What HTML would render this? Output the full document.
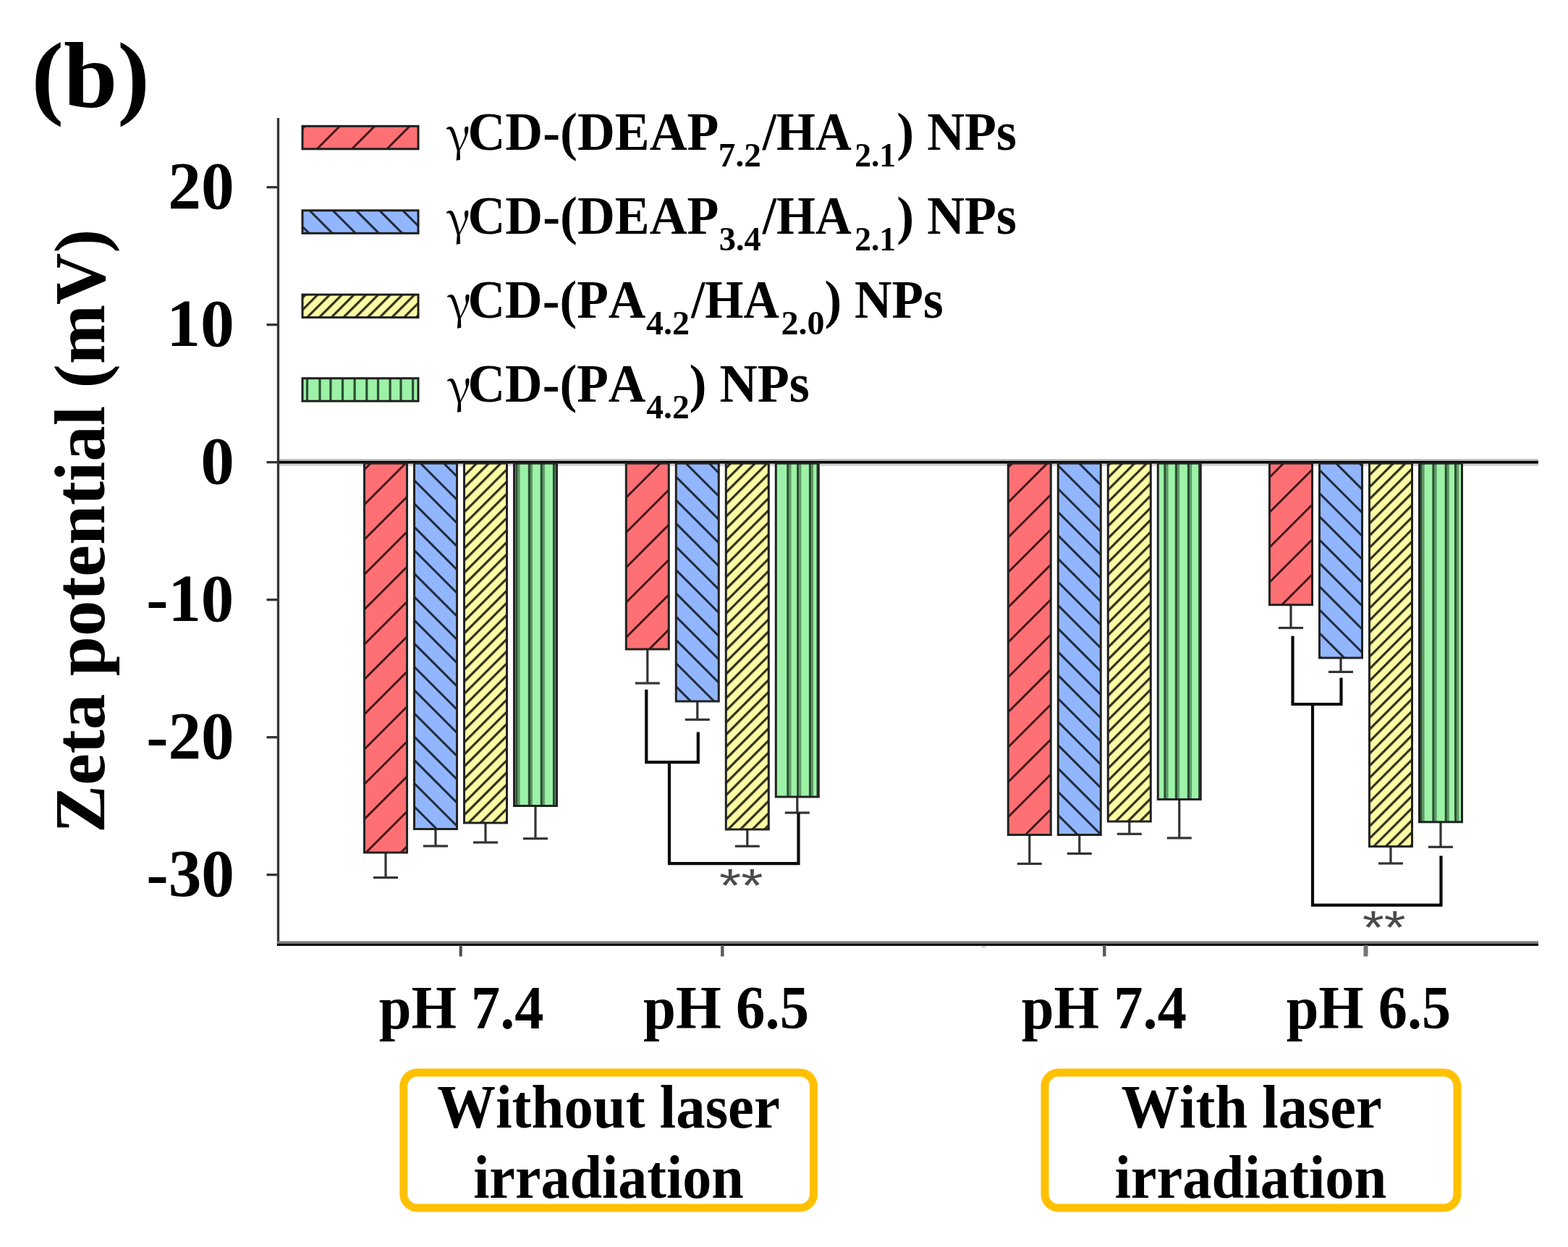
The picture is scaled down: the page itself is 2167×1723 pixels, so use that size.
<!DOCTYPE html><html><head><meta charset="utf-8"><title>Zeta potential chart</title><style>html,body{margin:0;padding:0;background:#fff;overflow:hidden}svg{display:block}</style></head><body><svg width="2167" height="1723" viewBox="0 0 2167 1723"><defs><pattern id="r0" patternUnits="userSpaceOnUse" width="34.1533" height="34.1533" patternTransform="translate(1198.72,0) rotate(45)"><rect x="-1" y="-1" width="36.153" height="36.153" fill="#ff7074"/><rect x="0" y="-1" width="2.8" height="36.153" fill="#3a1416"/></pattern><pattern id="b0" patternUnits="userSpaceOnUse" width="22.7688" height="22.7688" patternTransform="translate(-125.52,0) rotate(-45)"><rect x="-1" y="-1" width="24.769" height="24.769" fill="#92b6fe"/><rect x="0" y="-1" width="3.0" height="24.769" fill="#1f2a3d"/></pattern><pattern id="y0" patternUnits="userSpaceOnUse" width="11.8370" height="11.8370" patternTransform="translate(1313.44,0) rotate(45)"><rect x="-1" y="-1" width="13.837" height="13.837" fill="#fdfda5"/><rect x="0" y="-1" width="3.2" height="13.837" fill="#30301c"/></pattern><pattern id="r1" patternUnits="userSpaceOnUse" width="34.1533" height="34.1533" patternTransform="translate(1550.82,0) rotate(45)"><rect x="-1" y="-1" width="36.153" height="36.153" fill="#ff7074"/><rect x="0" y="-1" width="2.8" height="36.153" fill="#3a1416"/></pattern><pattern id="b1" patternUnits="userSpaceOnUse" width="22.7688" height="22.7688" patternTransform="translate(241.18,0) rotate(-45)"><rect x="-1" y="-1" width="24.769" height="24.769" fill="#92b6fe"/><rect x="0" y="-1" width="3.0" height="24.769" fill="#1f2a3d"/></pattern><pattern id="y1" patternUnits="userSpaceOnUse" width="11.8370" height="11.8370" patternTransform="translate(1698.14,0) rotate(45)"><rect x="-1" y="-1" width="13.837" height="13.837" fill="#fdfda5"/><rect x="0" y="-1" width="3.2" height="13.837" fill="#30301c"/></pattern><pattern id="r2" patternUnits="userSpaceOnUse" width="34.1533" height="34.1533" patternTransform="translate(2085.52,0) rotate(45)"><rect x="-1" y="-1" width="36.153" height="36.153" fill="#ff7074"/><rect x="0" y="-1" width="2.8" height="36.153" fill="#3a1416"/></pattern><pattern id="b2" patternUnits="userSpaceOnUse" width="22.7688" height="22.7688" patternTransform="translate(784.78,0) rotate(-45)"><rect x="-1" y="-1" width="24.769" height="24.769" fill="#92b6fe"/><rect x="0" y="-1" width="3.0" height="24.769" fill="#1f2a3d"/></pattern><pattern id="y2" patternUnits="userSpaceOnUse" width="11.8370" height="11.8370" patternTransform="translate(2205.94,0) rotate(45)"><rect x="-1" y="-1" width="13.837" height="13.837" fill="#fdfda5"/><rect x="0" y="-1" width="3.2" height="13.837" fill="#30301c"/></pattern><pattern id="r3" patternUnits="userSpaceOnUse" width="34.1533" height="34.1533" patternTransform="translate(2460.42,0) rotate(45)"><rect x="-1" y="-1" width="36.153" height="36.153" fill="#ff7074"/><rect x="0" y="-1" width="2.8" height="36.153" fill="#3a1416"/></pattern><pattern id="b3" patternUnits="userSpaceOnUse" width="22.7688" height="22.7688" patternTransform="translate(1139.88,0) rotate(-45)"><rect x="-1" y="-1" width="24.769" height="24.769" fill="#92b6fe"/><rect x="0" y="-1" width="3.0" height="24.769" fill="#1f2a3d"/></pattern><pattern id="y3" patternUnits="userSpaceOnUse" width="11.8370" height="11.8370" patternTransform="translate(2580.24,0) rotate(45)"><rect x="-1" y="-1" width="13.837" height="13.837" fill="#fdfda5"/><rect x="0" y="-1" width="3.2" height="13.837" fill="#30301c"/></pattern><pattern id="lr" patternUnits="userSpaceOnUse" width="34.1533" height="34.1533" patternTransform="translate(641.92,0) rotate(45)"><rect x="-1" y="-1" width="36.153" height="36.153" fill="#ff7074"/><rect x="0" y="-1" width="2.8" height="36.153" fill="#3a1416"/></pattern><pattern id="lb" patternUnits="userSpaceOnUse" width="22.7688" height="22.7688" patternTransform="translate(134.88,0) rotate(-45)"><rect x="-1" y="-1" width="24.769" height="24.769" fill="#92b6fe"/><rect x="0" y="-1" width="3.0" height="24.769" fill="#1f2a3d"/></pattern><pattern id="ly" patternUnits="userSpaceOnUse" width="11.8370" height="11.8370" patternTransform="translate(860.74,0) rotate(45)"><rect x="-1" y="-1" width="13.837" height="13.837" fill="#fdfda5"/><rect x="0" y="-1" width="3.2" height="13.837" fill="#30301c"/></pattern></defs><rect width="2167" height="1723" fill="#fff"/><rect x="382.8" y="163" width="3.3" height="1144" fill="#333"/><rect x="368.5" y="257.05" width="15" height="3.3" fill="#333"/><rect x="368.5" y="447.05" width="15" height="3.3" fill="#333"/><rect x="368.5" y="637.05" width="15" height="3.3" fill="#333"/><rect x="368.5" y="827.05" width="15" height="3.3" fill="#333"/><rect x="368.5" y="1017.05" width="15" height="3.3" fill="#333"/><rect x="368.5" y="1207.05" width="15" height="3.3" fill="#333"/><rect x="386" y="634.3" width="1740" height="2.6" fill="#b4b4b4"/><rect x="386" y="640.6" width="1740" height="3.2" fill="#d0d0d0"/><rect x="386" y="636.9" width="1740" height="3.7" fill="#000"/><rect x="383" y="1300.4" width="1743" height="3.5" fill="#7a7a7a"/><rect x="383" y="1303.9" width="1743" height="3" fill="#000"/><rect x="634.70" y="1306" width="4" height="15.5" fill="#4a4a4a"/><rect x="996.10" y="1306" width="4.4" height="15.5" fill="#5a5a5a"/><rect x="1524.10" y="1306" width="4.4" height="15.5" fill="#5a5a5a"/><rect x="1884.50" y="1306" width="6" height="15.5" fill="#747474"/><rect x="1356" y="1307" width="7" height="3" fill="#dcdcdc"/><rect x="531.40" y="1178.00" width="3.2" height="34.60" fill="#333"/><rect x="516.00" y="1211.00" width="34" height="3.2" fill="#333"/><rect x="503.50" y="640.20" width="59" height="537.80" fill="url(#r0)" stroke="#222" stroke-width="3"/><rect x="600.40" y="1145.50" width="3.2" height="23.50" fill="#333"/><rect x="585.00" y="1167.40" width="34" height="3.2" fill="#333"/><rect x="572.50" y="640.20" width="59" height="505.30" fill="url(#b0)" stroke="#222" stroke-width="3"/><rect x="669.40" y="1137.00" width="3.2" height="27.00" fill="#333"/><rect x="654.00" y="1162.40" width="34" height="3.2" fill="#333"/><rect x="641.50" y="640.20" width="59" height="496.80" fill="url(#y0)" stroke="#222" stroke-width="3"/><rect x="738.40" y="1113.50" width="3.2" height="45.20" fill="#333"/><rect x="723.00" y="1157.10" width="34" height="3.2" fill="#333"/><rect x="710.50" y="640.20" width="59" height="473.30" fill="#9cf2a6"/><rect x="712.40" y="640.20" width="3.20" height="473.30" fill="#2b4f33"/><rect x="715.60" y="640.20" width="3.00" height="473.30" fill="#5e9866"/><rect x="729.80" y="640.20" width="3.20" height="473.30" fill="#2b4f33"/><rect x="733.00" y="640.20" width="3.00" height="473.30" fill="#5e9866"/><rect x="746.70" y="640.20" width="3.20" height="473.30" fill="#2b4f33"/><rect x="749.90" y="640.20" width="3.00" height="473.30" fill="#5e9866"/><rect x="763.90" y="640.20" width="3.20" height="473.30" fill="#2b4f33"/><rect x="767.10" y="640.20" width="2.40" height="473.30" fill="#5e9866"/><rect x="710.50" y="640.20" width="59" height="473.30" fill="none" stroke="#222" stroke-width="3"/><rect x="893.20" y="897.00" width="3.2" height="47.00" fill="#333"/><rect x="877.80" y="942.40" width="34" height="3.2" fill="#333"/><rect x="865.30" y="640.20" width="59" height="256.80" fill="url(#r1)" stroke="#222" stroke-width="3"/><rect x="962.20" y="969.00" width="3.2" height="25.30" fill="#333"/><rect x="946.80" y="992.70" width="34" height="3.2" fill="#333"/><rect x="934.30" y="640.20" width="59" height="328.80" fill="url(#b1)" stroke="#222" stroke-width="3"/><rect x="1031.20" y="1146.00" width="3.2" height="23.20" fill="#333"/><rect x="1015.80" y="1167.60" width="34" height="3.2" fill="#333"/><rect x="1003.30" y="640.20" width="59" height="505.80" fill="url(#y1)" stroke="#222" stroke-width="3"/><rect x="1100.20" y="1101.00" width="3.2" height="22.00" fill="#333"/><rect x="1084.80" y="1121.40" width="34" height="3.2" fill="#333"/><rect x="1072.30" y="640.20" width="59" height="460.80" fill="#9cf2a6"/><rect x="1087.30" y="640.20" width="3.20" height="460.80" fill="#2b4f33"/><rect x="1090.50" y="640.20" width="3.00" height="460.80" fill="#5e9866"/><rect x="1101.10" y="640.20" width="3.20" height="460.80" fill="#2b4f33"/><rect x="1104.30" y="640.20" width="3.00" height="460.80" fill="#5e9866"/><rect x="1117.90" y="640.20" width="3.20" height="460.80" fill="#2b4f33"/><rect x="1121.10" y="640.20" width="3.00" height="460.80" fill="#5e9866"/><rect x="1128.40" y="640.20" width="2.90" height="460.80" fill="#2b4f33"/><rect x="1072.30" y="640.20" width="59" height="460.80" fill="none" stroke="#222" stroke-width="3"/><rect x="1421.20" y="1153.50" width="3.2" height="40.00" fill="#333"/><rect x="1405.80" y="1191.90" width="34" height="3.2" fill="#333"/><rect x="1393.30" y="640.20" width="59" height="513.30" fill="url(#r2)" stroke="#222" stroke-width="3"/><rect x="1490.20" y="1153.50" width="3.2" height="25.90" fill="#333"/><rect x="1474.80" y="1177.80" width="34" height="3.2" fill="#333"/><rect x="1462.30" y="640.20" width="59" height="513.30" fill="url(#b2)" stroke="#222" stroke-width="3"/><rect x="1559.20" y="1135.00" width="3.2" height="17.30" fill="#333"/><rect x="1543.80" y="1150.70" width="34" height="3.2" fill="#333"/><rect x="1531.30" y="640.20" width="59" height="494.80" fill="url(#y2)" stroke="#222" stroke-width="3"/><rect x="1628.20" y="1104.50" width="3.2" height="53.40" fill="#333"/><rect x="1612.80" y="1156.30" width="34" height="3.2" fill="#333"/><rect x="1600.30" y="640.20" width="59" height="464.30" fill="#9cf2a6"/><rect x="1608.40" y="640.20" width="3.20" height="464.30" fill="#2b4f33"/><rect x="1611.60" y="640.20" width="3.00" height="464.30" fill="#5e9866"/><rect x="1623.90" y="640.20" width="3.20" height="464.30" fill="#2b4f33"/><rect x="1627.10" y="640.20" width="3.00" height="464.30" fill="#5e9866"/><rect x="1640.90" y="640.20" width="3.20" height="464.30" fill="#2b4f33"/><rect x="1644.10" y="640.20" width="3.00" height="464.30" fill="#5e9866"/><rect x="1656.10" y="640.20" width="3.20" height="464.30" fill="#2b4f33"/><rect x="1600.30" y="640.20" width="59" height="464.30" fill="none" stroke="#222" stroke-width="3"/><rect x="1782.40" y="835.70" width="3.2" height="31.90" fill="#333"/><rect x="1767.00" y="866.00" width="34" height="3.2" fill="#333"/><rect x="1754.50" y="640.20" width="59" height="195.50" fill="url(#r3)" stroke="#222" stroke-width="3"/><rect x="1851.40" y="909.00" width="3.2" height="19.40" fill="#333"/><rect x="1836.00" y="926.80" width="34" height="3.2" fill="#333"/><rect x="1823.50" y="640.20" width="59" height="268.80" fill="url(#b3)" stroke="#222" stroke-width="3"/><rect x="1920.40" y="1169.60" width="3.2" height="23.40" fill="#333"/><rect x="1905.00" y="1191.40" width="34" height="3.2" fill="#333"/><rect x="1892.50" y="640.20" width="59" height="529.40" fill="url(#y3)" stroke="#222" stroke-width="3"/><rect x="1989.40" y="1135.80" width="3.2" height="34.50" fill="#333"/><rect x="1974.00" y="1168.70" width="34" height="3.2" fill="#333"/><rect x="1961.50" y="640.20" width="59" height="495.60" fill="#9cf2a6"/><rect x="1962.40" y="640.20" width="3.20" height="495.60" fill="#2b4f33"/><rect x="1965.60" y="640.20" width="3.00" height="495.60" fill="#5e9866"/><rect x="1979.40" y="640.20" width="3.20" height="495.60" fill="#2b4f33"/><rect x="1982.60" y="640.20" width="3.00" height="495.60" fill="#5e9866"/><rect x="1996.70" y="640.20" width="3.20" height="495.60" fill="#2b4f33"/><rect x="1999.90" y="640.20" width="3.00" height="495.60" fill="#5e9866"/><rect x="2010.00" y="640.20" width="3.20" height="495.60" fill="#2b4f33"/><rect x="2013.20" y="640.20" width="3.00" height="495.60" fill="#5e9866"/><rect x="1961.50" y="640.20" width="59" height="495.60" fill="none" stroke="#222" stroke-width="3"/><path d="M893.3,952.7 L893.3,1053.2 L964.8,1053.2 L964.8,1011.5" fill="none" stroke="#0a0a0a" stroke-width="4.2" stroke-linejoin="miter" stroke-linecap="butt"/><path d="M925.0,1053.2 L925.0,1193.2 L1103.5,1193.2 L1103.5,1123.5" fill="none" stroke="#0a0a0a" stroke-width="4.2" stroke-linejoin="miter" stroke-linecap="butt"/><path d="M1786.5,878.7 L1786.5,973.0 L1853.5,973.0 L1853.5,936.6" fill="none" stroke="#0a0a0a" stroke-width="4.2" stroke-linejoin="miter" stroke-linecap="butt"/><path d="M1814.0,973.0 L1814.0,1250.6 L1991.5,1250.6 L1991.5,1182.6" fill="none" stroke="#0a0a0a" stroke-width="4.2" stroke-linejoin="miter" stroke-linecap="butt"/><rect x="418" y="174.30" width="160" height="31.5" fill="url(#lr)" stroke="#1e1e1e" stroke-width="3"/><rect x="418" y="290.80" width="160" height="31.5" fill="url(#lb)" stroke="#1e1e1e" stroke-width="3"/><rect x="418" y="407.10" width="160" height="31.5" fill="url(#ly)" stroke="#1e1e1e" stroke-width="3"/><rect x="418" y="522.70" width="160" height="31.5" fill="#9cf2a6"/><rect x="422.90" y="522.70" width="3.2" height="31.5" fill="#2b4f33"/><rect x="440.40" y="522.70" width="3.2" height="31.5" fill="#2b4f33"/><rect x="455.30" y="522.70" width="3.2" height="31.5" fill="#2b4f33"/><rect x="471.90" y="522.70" width="3.2" height="31.5" fill="#2b4f33"/><rect x="488.50" y="522.70" width="3.2" height="31.5" fill="#2b4f33"/><rect x="505.20" y="522.70" width="3.2" height="31.5" fill="#2b4f33"/><rect x="520.90" y="522.70" width="3.2" height="31.5" fill="#2b4f33"/><rect x="537.50" y="522.70" width="3.2" height="31.5" fill="#2b4f33"/><rect x="552.40" y="522.70" width="3.2" height="31.5" fill="#2b4f33"/><rect x="569.00" y="522.70" width="3.2" height="31.5" fill="#2b4f33"/><rect x="418" y="522.70" width="160" height="31.5" fill="none" stroke="#1e1e1e" stroke-width="3"/><rect x="557.8" y="1481.9" width="566.7" height="187.1" rx="19" ry="19" fill="none" stroke="#ffc000" stroke-width="11"/><rect x="1444" y="1481.9" width="570" height="187.1" rx="19" ry="19" fill="none" stroke="#ffc000" stroke-width="11"/><g font-family="Liberation Serif, serif" style="font-kerning:none"><text x="43.53" y="148.00" font-size="130" font-weight="bold" textLength="163.35" lengthAdjust="spacingAndGlyphs" fill="#000">(b)</text><text x="232.26" y="288.30" font-size="93.5" font-weight="bold" textLength="91.42" lengthAdjust="spacingAndGlyphs" fill="#000">20</text><text x="230.20" y="478.30" font-size="93.5" font-weight="bold" textLength="93.67" lengthAdjust="spacingAndGlyphs" fill="#000">10</text><text x="277.15" y="668.30" font-size="93.5" font-weight="bold" textLength="46.60" lengthAdjust="spacingAndGlyphs" fill="#000">0</text><text x="202.28" y="858.30" font-size="93.5" font-weight="bold" textLength="120.98" lengthAdjust="spacingAndGlyphs" fill="#000">-10</text><text x="202.27" y="1048.30" font-size="93.5" font-weight="bold" textLength="121.19" lengthAdjust="spacingAndGlyphs" fill="#000">-20</text><text x="202.26" y="1238.30" font-size="93.5" font-weight="bold" textLength="121.72" lengthAdjust="spacingAndGlyphs" fill="#000">-30</text><text x="523.78" y="1421.20" font-size="85" font-weight="bold" textLength="227.61" lengthAdjust="spacingAndGlyphs" fill="#000">pH 7.4</text><text x="889.07" y="1421.20" font-size="85" font-weight="bold" textLength="228.98" lengthAdjust="spacingAndGlyphs" fill="#000">pH 6.5</text><text x="1411.78" y="1421.20" font-size="85" font-weight="bold" textLength="228.12" lengthAdjust="spacingAndGlyphs" fill="#000">pH 7.4</text><text x="1777.68" y="1421.20" font-size="85" font-weight="bold" textLength="227.46" lengthAdjust="spacingAndGlyphs" fill="#000">pH 6.5</text><text x="604.36" y="1558.00" font-size="84" font-weight="bold" textLength="473.48" lengthAdjust="spacingAndGlyphs" fill="#000">Without laser</text><text x="654.14" y="1654.70" font-size="84" font-weight="bold" textLength="373.67" lengthAdjust="spacingAndGlyphs" fill="#000">irradiation</text><text x="1549.56" y="1558.00" font-size="84" font-weight="bold" textLength="360.27" lengthAdjust="spacingAndGlyphs" fill="#000">With laser</text><text x="1540.43" y="1654.70" font-size="84" font-weight="bold" textLength="375.99" lengthAdjust="spacingAndGlyphs" fill="#000">irradiation</text><text x="616.70" y="209.10" font-size="64" font-weight="normal" textLength="33.92" lengthAdjust="spacingAndGlyphs" fill="#000" font-family="Noto Serif CJK SC, Liberation Serif, serif">γ</text><text x="646.49" y="207.30" font-size="75" font-weight="bold" textLength="346.94" lengthAdjust="spacingAndGlyphs" fill="#000">CD-(DEAP</text><text x="992.80" y="230.10" font-size="47" font-weight="bold" textLength="59.03" lengthAdjust="spacingAndGlyphs" fill="#000">7.2</text><text x="1053.68" y="207.30" font-size="75" font-weight="bold" textLength="123.13" lengthAdjust="spacingAndGlyphs" fill="#000">/HA</text><text x="1181.19" y="230.10" font-size="47" font-weight="bold" textLength="56.86" lengthAdjust="spacingAndGlyphs" fill="#000">2.1</text><text x="1239.28" y="207.30" font-size="75" font-weight="bold" textLength="165.77" lengthAdjust="spacingAndGlyphs" fill="#000">) NPs</text><text x="616.70" y="324.90" font-size="64" font-weight="normal" textLength="33.92" lengthAdjust="spacingAndGlyphs" fill="#000" font-family="Noto Serif CJK SC, Liberation Serif, serif">γ</text><text x="646.49" y="323.10" font-size="75" font-weight="bold" textLength="346.94" lengthAdjust="spacingAndGlyphs" fill="#000">CD-(DEAP</text><text x="993.75" y="345.90" font-size="47" font-weight="bold" textLength="58.11" lengthAdjust="spacingAndGlyphs" fill="#000">3.4</text><text x="1053.68" y="323.10" font-size="75" font-weight="bold" textLength="123.13" lengthAdjust="spacingAndGlyphs" fill="#000">/HA</text><text x="1181.19" y="345.90" font-size="47" font-weight="bold" textLength="56.86" lengthAdjust="spacingAndGlyphs" fill="#000">2.1</text><text x="1239.28" y="323.10" font-size="75" font-weight="bold" textLength="165.77" lengthAdjust="spacingAndGlyphs" fill="#000">) NPs</text><text x="618.00" y="441.00" font-size="64" font-weight="normal" textLength="33.92" lengthAdjust="spacingAndGlyphs" fill="#000" font-family="Noto Serif CJK SC, Liberation Serif, serif">γ</text><text x="646.51" y="439.20" font-size="75" font-weight="bold" textLength="245.91" lengthAdjust="spacingAndGlyphs" fill="#000">CD-(PA</text><text x="893.04" y="462.00" font-size="47" font-weight="bold" textLength="60.02" lengthAdjust="spacingAndGlyphs" fill="#000">4.2</text><text x="955.27" y="439.20" font-size="75" font-weight="bold" textLength="121.63" lengthAdjust="spacingAndGlyphs" fill="#000">/HA</text><text x="1079.48" y="462.00" font-size="47" font-weight="bold" textLength="60.15" lengthAdjust="spacingAndGlyphs" fill="#000">2.0</text><text x="1139.61" y="439.20" font-size="75" font-weight="bold" textLength="164.03" lengthAdjust="spacingAndGlyphs" fill="#000">) NPs</text><text x="618.00" y="556.80" font-size="64" font-weight="normal" textLength="33.92" lengthAdjust="spacingAndGlyphs" fill="#000" font-family="Noto Serif CJK SC, Liberation Serif, serif">γ</text><text x="646.51" y="555.00" font-size="75" font-weight="bold" textLength="245.91" lengthAdjust="spacingAndGlyphs" fill="#000">CD-(PA</text><text x="893.25" y="577.80" font-size="47" font-weight="bold" textLength="59.50" lengthAdjust="spacingAndGlyphs" fill="#000">4.2</text><text x="952.47" y="555.00" font-size="75" font-weight="bold" textLength="166.39" lengthAdjust="spacingAndGlyphs" fill="#000">) NPs</text><text x="994.05" y="1245.80" font-size="64" font-weight="normal" textLength="60.36" lengthAdjust="spacingAndGlyphs" fill="#4a4a4a" font-family="Liberation Sans, sans-serif">**</text><text x="1883.07" y="1303.60" font-size="64" font-weight="normal" textLength="59.53" lengthAdjust="spacingAndGlyphs" fill="#4a4a4a" font-family="Liberation Sans, sans-serif">**</text><text transform="translate(144,0) rotate(-90)" x="-1151.03" y="0" font-size="100" font-weight="bold" textLength="834.37" lengthAdjust="spacingAndGlyphs">Zeta potential (mV)</text></g></svg></body></html>
